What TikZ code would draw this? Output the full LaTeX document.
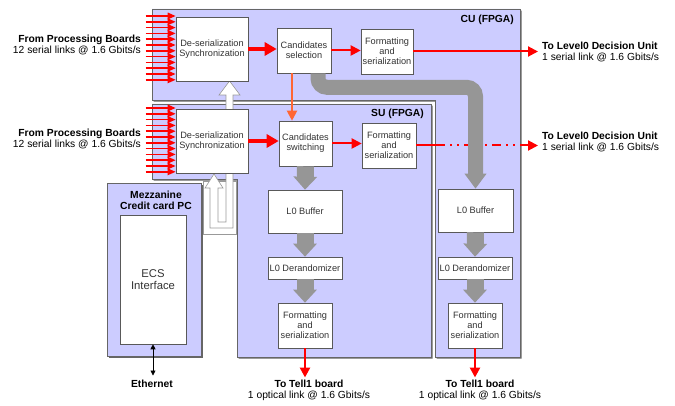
\documentclass[tikz,border=0pt]{standalone}
\usepackage{fontspec}
\setmainfont{Liberation Sans}
\usepackage{tikz}
\usetikzlibrary{calc,positioning,arrows.meta,shadows}
\pgfdeclarelayer{background}
\pgfsetlayers{background,main}

\begin{document}
\begin{tikzpicture}[x=1pt,y=-1pt]
  % Colors
  \definecolor{fpga}{RGB}{204,204,255}
  \definecolor{flow}{RGB}{150,150,150}
  \definecolor{link}{RGB}{255,0,0}
  \definecolor{cand}{RGB}{255,102,51}

  % Styles
  \tikzstyle{block}=[draw=black!65,fill=white,line width=0.6pt,align=center,inner sep=1pt,text=black!80,font=\fontsize{9.2}{10}\selectfont]
  \tikzstyle{caption text}=[inner sep=0pt,font=\fontsize{10.3}{11}\selectfont]
  \tikzstyle{board}=[draw=black!60,line width=0.6pt,fill=fpga,drop shadow={shadow xshift=1.6pt,shadow yshift=-1.6pt,fill=black!60,opacity=1}]
  \tikzstyle{board link}=[draw=link,line width=1.6pt,-{Triangle[length=8pt 0,width=6.5pt 0]}]
  \tikzstyle{serial}=[draw=link,line width=2pt,-{Triangle[length=10pt 0,width=10pt 0]}]
  \tikzstyle{fat serial}=[draw=link,line width=4.5pt,-{Triangle[length=12pt 0,width=13pt 0]}]
  \tikzstyle{data}=[draw=flow,line width=17pt,-{Triangle[length=13pt 0,width=23pt 0]}]
  \tikzstyle{control}=[fill=white,draw=black!40,line width=0.6pt]

  \useasboundingbox (0,0) rectangle (675,406);

  % The blocks
  \node[block,minimum width=72pt,minimum height=64pt] (desA) at (212,49) {De-serialization\\Synchronization};
  \node[block,minimum width=72pt,minimum height=64pt] (desB) at (212,141) {De-serialization\\Synchronization};
  \node[block,minimum width=54pt,minimum height=45pt] (csel) at (304,50.5) {Candidates\\selection};
  \node[block,minimum width=53pt,minimum height=45pt] (cswi) at (305.5,143.5) {Candidates\\switching};
  \node[block,minimum width=52pt,minimum height=45pt] (fmtA) at (387,51.5) {Formatting\\and\\serialization};
  \node[block,minimum width=54pt,minimum height=45pt] (fmtB) at (389,145.5) {Formatting\\and\\serialization};

  \node[block,minimum width=74pt,minimum height=43pt] (subuf) at (305,211.5) {L0 Buffer};
  \node[block,minimum width=74pt,minimum height=22pt] (suder) at (305,268) {L0 Derandomizer};
  \node[block,minimum width=54pt,minimum height=45pt] (sufmt) at (305,325.5) {Formatting\\and\\serialization};

  \node[block,minimum width=75pt,minimum height=43pt] (cubuf) at (475.5,210.5) {L0 Buffer};
  \node[block,minimum width=74pt,minimum height=22pt] (cuder) at (475,268) {L0 Derandomizer};
  \node[block,minimum width=54pt,minimum height=45pt] (cufmt) at (475,325.5) {Formatting\\and\\serialization};

  \node[block,minimum width=66pt,minimum height=129pt,font=\fontsize{11.3}{12}\selectfont] (ecs) at (153,279.5) {ECS\\Interface};

  % Texts
  \node[caption text,anchor=east,align=right] (inA) at (141,44.5) {\textbf{From Processing Boards}\\12 serial links @ 1.6 Gbits/s};
  \node[caption text,anchor=east,align=right] (inB) at (141,138.5) {\textbf{From Processing Boards}\\12 serial links @ 1.6 Gbits/s};
  \node[caption text,anchor=west,align=left] (outA) at (542,52) {\textbf{To Level0 Decision Unit}\\1 serial link @ 1.6 Gbits/s};
  \node[caption text,anchor=west,align=left] (outB) at (542,141.5) {\textbf{To Level0 Decision Unit}\\1 serial link @ 1.6 Gbits/s};
  \node[caption text,align=center] (tellA) at (309,390) {\textbf{To Tell1 board}\\1 optical link @ 1.6 Gbits/s};
  \node[caption text,align=center] (tellB) at (480,390) {\textbf{To Tell1 board}\\1 optical link @ 1.6 Gbits/s};
  \node[caption text] (eth) at (152,383.5) {\textbf{Ethernet}};
  \node[caption text,anchor=east] (cuName) at (514,20) {\textbf{CU (FPGA)}};
  \node[caption text,anchor=east] (suName) at (424,114) {\textbf{SU (FPGA)}};
  \node[caption text,align=center] (mezzName) at (156,200.5) {\textbf{Mezzanine}\\\textbf{Credit card PC}};

  % Input links
  \foreach \i in {0,...,11} {
    \draw[board link] ([xshift=-30pt,yshift={(33-5.8*\i)*1pt}]desA.west) -- ([yshift={(33-5.8*\i)*1pt}]desA.west);
    \draw[board link] ([xshift=-30pt,yshift={(33-5.8*\i)*1pt}]desB.west) -- ([yshift={(33-5.8*\i)*1pt}]desB.west);
  }

  % Serial links
  \draw[fat serial] (desA.east) -- (desA.east -| csel.west);
  \draw[fat serial] (desB.east) -- (desB.east -| cswi.west);
  \draw[serial] (csel.east) -- (csel.east -| fmtA.west);
  \draw[serial] (cswi.east) -- (cswi.east -| fmtB.west);
  \draw[serial] (fmtA.east) -- ([xshift=-4pt]fmtA.east -| outA.west);
  \draw[link,line width=2pt] (fmtB.east) -- ++(20,0) coordinate (suEdge);
  \draw[serial,dash pattern=on 9pt off 5pt on 2pt off 5pt on 2pt off 5pt] (suEdge) -- ([xshift=-4pt]fmtB.east -| outB.west);
  \draw[serial,draw=cand] ([xshift=-12pt]csel.south) -- ([xshift=-12pt]csel.south |- cswi.north);
  \draw[serial,line width=2.5pt] (sufmt.south) -- ([yshift=2pt]sufmt.south |- tellA.north);
  \draw[serial,line width=2.5pt] (cufmt.south) -- ([yshift=2pt]cufmt.south |- tellB.north);
  \draw[black,line width=0.8pt,{Triangle[length=5pt 0,width=5pt 0]}-{Triangle[length=5pt 0,width=5pt 0]}] (ecs.south) -- ([yshift=4pt]ecs.south |- eth.north);

  % Data flow
  \draw[data] (cswi.south) -- (subuf.north);
  \draw[data] (subuf.south) -- (suder.north);
  \draw[data] (suder.south) -- (sufmt.north);
  \draw[data] (cubuf.south) -- (cuder.north);
  \draw[data] (cuder.south) -- (cufmt.north);
  \draw[data,line width=15pt,rounded corners=9pt,-{Triangle[length=15pt 0,width=21pt 0]}] ([xshift=14pt]csel.south) -- ++(0,14) -| (cubuf.north);

  % Boards
  \begin{pgfonlayer}{background}
    \draw[board] (152,9) -- (520,9) -- (520,357) -- (435,357) -- (435,100) -- (152,100) -- cycle;
    \draw[board] (152,104) -- (431,104) -- (431,357) -- (237,357) -- (237,179) -- (152,179) -- cycle;
    \draw[board] (107,183) rectangle (201,356);
    % ECS links
    \draw[control] (203,181) rectangle (236,234);
    \draw[control] (210,228) -- (210,188) -- (205,188) -- (214,174) -- (223,188) -- (218,188) -- (218,222)
      -- (226,222) -- (226,95) -- (219,95) -- (229.5,81) -- (240,95) -- (233,95) -- (233,228) -- cycle;
  \end{pgfonlayer}
\end{tikzpicture}
\end{document}
